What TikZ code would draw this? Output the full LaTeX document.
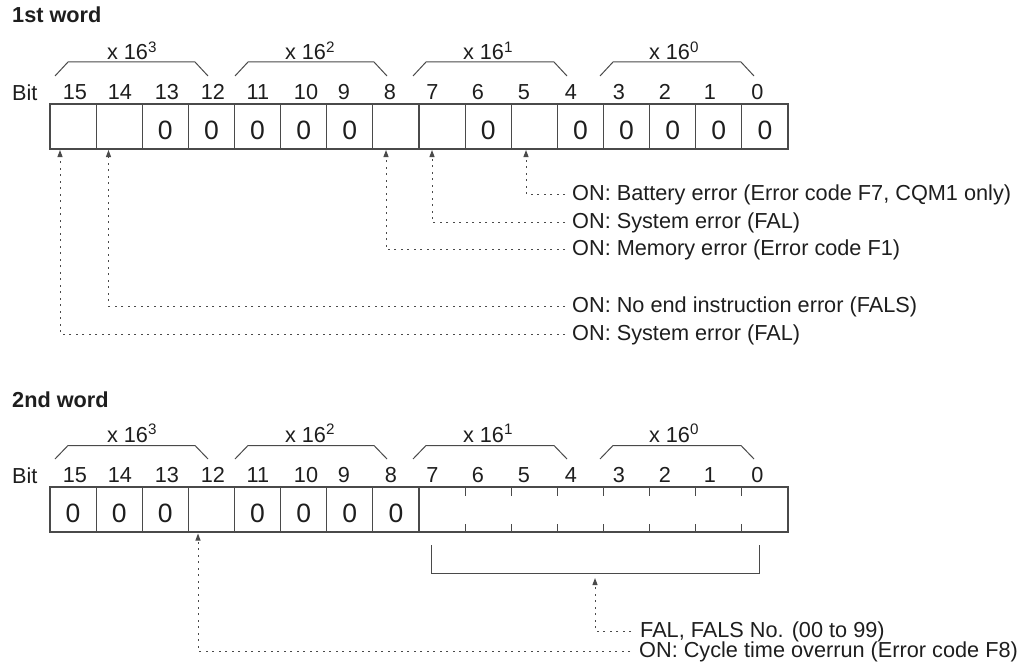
\documentclass[tikz,border=0pt]{standalone}
\usepackage{fontspec}
\setmainfont{Liberation Sans}
\usetikzlibrary{arrows.meta}
\definecolor{ink}{HTML}{1E1E1E}
\definecolor{edge}{HTML}{4A4A4A}
\begin{document}
\begin{tikzpicture}[x=1pt,y=-1pt,
  txt/.style={font=\fontsize{21.7}{26}\selectfont, text=ink, inner sep=0pt},
  ttl/.style={font=\fontsize{21.7}{26}\selectfont\bfseries, text=ink, inner sep=0pt, anchor=base west},
  cell/.style={draw=edge, line width=1.1pt, minimum width=46.125pt, minimum height=45pt,
    inner sep=0pt, font=\fontsize{26.5}{30}\selectfont, text=ink, text height=25.5pt, text depth=0pt},
  brk/.style={draw=edge, line width=1pt},
  tick/.style={draw=edge, line width=1pt},
  lead/.style={draw=edge, line width=1pt, dash pattern=on 2pt off 4.5pt,
    -{Triangle[length=7pt,width=5pt]}},
  lbl/.style={txt, anchor=west, inner xsep=7pt, text height=16.6pt, text depth=4pt},
  lblb/.style={lbl, inner xsep=9pt}
]
\useasboundingbox (0,0) rectangle (1019,666);

% ---------------- 1st word ----------------
\node[ttl] (t1) at (12,23) {1st word};
\foreach \l/\r in {55/208,235/387,413/567,600/754}
  \draw[brk] (\l,76) -- (\l+13,62) -- (\r-13,62) -- (\r,76);
\node[txt,anchor=base] (ga3) at (132,60) {x 16\textsuperscript{3}};
\node[txt,anchor=base] (ga2) at (310,60) {x 16\textsuperscript{2}};
\node[txt,anchor=base] (ga1) at (488,60) {x 16\textsuperscript{1}};
\node[txt,anchor=base] (ga0) at (674,60) {x 16\textsuperscript{0}};
\node[txt,anchor=base west] (bita) at (12,101) {Bit};
\foreach \b/\x in {15/75,14/120,13/167,12/213,11/258,10/306,9/344,8/390,
                   7/432.5,6/478,5/524,4/571,3/619,2/665,1/710,0/757.5}
  \node[txt,anchor=base] (na\b) at (\x,100) {\b};
\foreach \b/\v in {15/,14/,13/0,12/0,11/0,10/0,9/0,8/,7/,6/0,5/,4/0,3/0,2/0,1/0,0/0}
  \node[cell] (a\b) at ({50+46.125*(15.5-\b)},126.5) {\v};

\coordinate (p5) at (526,150);
\coordinate (p7) at (432,150);
\coordinate (p8) at (386,150);
\coordinate (p14) at (108.5,150);
\coordinate (p15) at (60,150);
\node[lbl] (l5) at (565,194) {ON: Battery error (Error code F7, CQM1 only)};
\node[lbl] (l7) at (565,222.5) {ON: System error (FAL)};
\node[lbl] (l8) at (565,249.5) {ON: Memory error (Error code F1)};
\node[lbl] (l14) at (565,306) {ON: No end instruction error (FALS)};
\node[lbl] (l15) at (565,334) {ON: System error (FAL)};
\draw[lead] (l5.west) -| (p5);
\draw[lead] (l7.west) -| (p7);
\draw[lead] (l8.west) -| (p8);
\draw[lead] (l14.west) -| (p14);
\draw[lead] (l15.west) -| (p15);

% ---------------- 2nd word ----------------
\node[ttl] (t2) at (12,407) {2nd word};
\foreach \l/\r in {55/208,235/387,413/567,600/754}
  \draw[brk] (\l,459) -- (\l+13,445.5) -- (\r-13,445.5) -- (\r,459);
\node[txt,anchor=base] (gb3) at (132,442) {x 16\textsuperscript{3}};
\node[txt,anchor=base] (gb2) at (310,442) {x 16\textsuperscript{2}};
\node[txt,anchor=base] (gb1) at (488,442) {x 16\textsuperscript{1}};
\node[txt,anchor=base] (gb0) at (674,442) {x 16\textsuperscript{0}};
\node[txt,anchor=base west] (bitb) at (12,483) {Bit};
\foreach \b/\x in {15/75,14/120,13/167,12/213,11/258,10/306,9/344,8/391,
                   7/432.5,6/478,5/524,4/571,3/619,2/665,1/710,0/757.5}
  \node[txt,anchor=base] (nb\b) at (\x,482) {\b};
\foreach \b/\v in {15/0,14/0,13/0,12/,11/0,10/0,9/0,8/0}
  \node[cell] (b\b) at ({50+46.125*(15.5-\b)},509.5) {\v};
\node[cell, minimum width=369pt] (blow) at (603.5,509.5) {};
\foreach \k in {9,...,15} {
  \draw[tick] ({50+46.125*\k},487) -- ++(0,9);
  \draw[tick] ({50+46.125*\k},532) -- ++(0,-8);
}
\draw[brk] (431,545) -- (431,573) -- (759,573) -- (759,545);

\coordinate (q) at (595,578);
\coordinate (p12) at (198,533.5);
\node[lblb] (fal) at (631,631) {FAL, FALS No. (00 to 99)};
\node[lblb] (cyc) at (630,651) {ON: Cycle time overrun (Error code F8)};
\draw[lead] (fal.west) -| (q);
\draw[lead] (cyc.west) -| (p12);
\end{tikzpicture}
\end{document}
